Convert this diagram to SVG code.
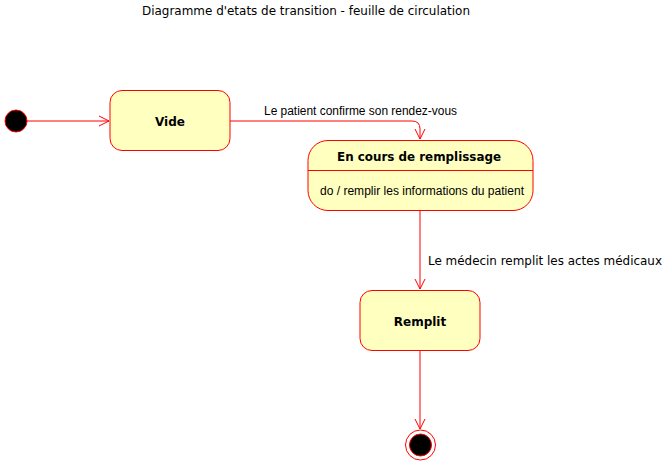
<svg xmlns="http://www.w3.org/2000/svg" width="672" height="462" viewBox="0 0 672 462">
<defs>
<style>
.state{fill:#FFFFC0;stroke:#FF0000;stroke-width:1}
.edge{fill:none;stroke:#FF0000;stroke-width:1}
.name{font-family:"DejaVu Sans",Verdana,sans-serif;font-weight:bold;font-size:12px;fill:#000;text-anchor:middle}
.lbl{font-family:"Liberation Sans",Arial,sans-serif;font-size:12px;fill:#000}
.vlbl{font-family:"DejaVu Sans",Verdana,sans-serif;font-size:12px;fill:#000}
</style>
<marker id="open" markerWidth="14" markerHeight="14" refX="11" refY="6" orient="auto" markerUnits="userSpaceOnUse">
<path d="M1,1 L11,6 L1,11" fill="none" stroke="#FF0000" stroke-width="1"/>
</marker>
</defs>
<rect width="672" height="462" fill="#fff"/>
<text x="142" y="15" class="vlbl" font-size="12" textLength="328" lengthAdjust="spacingAndGlyphs">Diagramme d'etats de transition - feuille de circulation</text>
<g id="connectors">
<path class="edge" d="M27,121 L109,121" marker-end="url(#open)"/>
<path class="edge" d="M230,121 L412,121 Q420,121 420,129 L420,139" marker-end="url(#open)"/>
<text class="lbl" x="264" y="115" textLength="193" lengthAdjust="spacingAndGlyphs">Le patient confirme son rendez-vous</text>
<path class="edge" d="M420,210 L420,289" marker-end="url(#open)"/>
<text class="vlbl" x="428" y="265" textLength="234" lengthAdjust="spacingAndGlyphs">Le médecin remplit les actes médicaux</text>
<path class="edge" d="M420,350 L420,429" marker-end="url(#open)"/>
</g>
<g id="start">
<circle cx="16" cy="121" r="11" fill="#000" stroke="#FF0000" stroke-width="1"/>
</g>
<g id="vide">
<rect class="state" x="110" y="90.5" width="120" height="60" rx="12" ry="12"/>
<text class="name" x="170" y="125.5">Vide</text>
</g>
<g id="encours">
<rect class="state" x="308" y="140.5" width="225" height="70" rx="20" ry="20"/>
<line class="edge" x1="308" y1="170.5" x2="533" y2="170.5"/>
<text class="name" x="419" y="160.5" textLength="164" lengthAdjust="spacingAndGlyphs">En cours de remplissage</text>
<text class="lbl" x="320" y="195" textLength="204" lengthAdjust="spacingAndGlyphs">do / remplir les informations du patient</text>
</g>
<g id="remplit">
<rect class="state" x="360" y="290.5" width="120" height="60" rx="12" ry="12"/>
<text class="name" x="420" y="325.5">Remplit</text>
</g>
<g id="end">
<circle cx="420.5" cy="445" r="15" fill="#fff" stroke="#FF0000" stroke-width="1"/>
<circle cx="420.5" cy="445" r="11" fill="#000" stroke="#FF0000" stroke-width="1"/>
</g>
</svg>
